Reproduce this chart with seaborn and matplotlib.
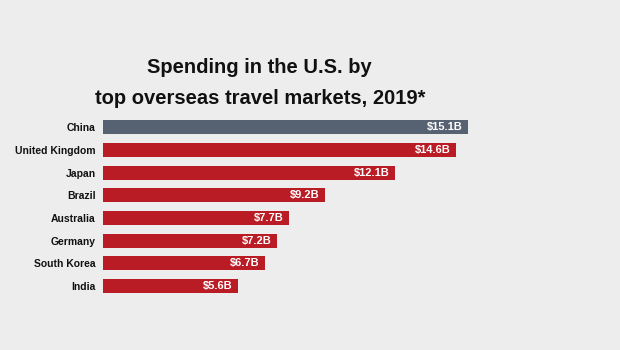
import matplotlib
matplotlib.use('Agg')
import matplotlib.pyplot as plt
import seaborn as sns
import pandas as pd

countries = ['China', 'United Kingdom', 'Japan', 'Brazil', 'Australia',
             'Germany', 'South Korea', 'India']
spending = [15.1, 14.6, 12.1, 9.2, 7.7, 7.2, 6.7, 5.6]
value_labels = ['$15.1B', '$14.6B', '$12.1B', '$9.2B', '$7.7B', '$7.2B',
                '$6.7B', '$5.6B']

sns.set_theme(style="white")
plt.rcParams['font.family'] = ['Liberation Sans', 'DejaVu Sans']

bg = '#ededed'
red = '#b91c24'
grey = '#566272'

df = pd.DataFrame({'country': countries, 'spending': spending})
colors = [grey] + [red] * (len(countries) - 1)

fig = plt.figure(figsize=(6.2, 3.5), dpi=100, facecolor=bg)
ax = fig.add_axes([0.166, 0.150, 0.834, 0.519])
ax.set_facecolor(bg)

sns.barplot(data=df, x='spending', y='country', hue='country', palette=colors,
            legend=False, width=0.62, ax=ax, saturation=1, linewidth=0)

# value labels inside the bar ends
for i, (v, lab) in enumerate(zip(spending, value_labels)):
    ax.text(v - 0.22, i, lab, ha='right', va='center', color='white',
            fontsize=8, fontweight='bold')

ax.set_xlim(0, 21.4)
ax.set_ylim(7.5, -0.5)
ax.set_xlabel('')
ax.set_ylabel('')
ax.set_xticks([])
ax.tick_params(axis='y', length=0, pad=5)
for t in ax.get_yticklabels():
    t.set_fontweight('bold')
    t.set_fontsize(7.5)
    t.set_color('#111111')
sns.despine(ax=ax, left=True, bottom=True)

fig.text(0.419, 0.806, 'Spending in the U.S. by', ha='center', va='center',
         fontsize=14.5, fontweight='bold', color='#111111')
fig.text(0.419, 0.720, 'top overseas travel markets, 2019*', ha='center',
         va='center', fontsize=14.5, fontweight='bold', color='#111111')

fig.savefig('out.png', dpi=100, facecolor=bg)
